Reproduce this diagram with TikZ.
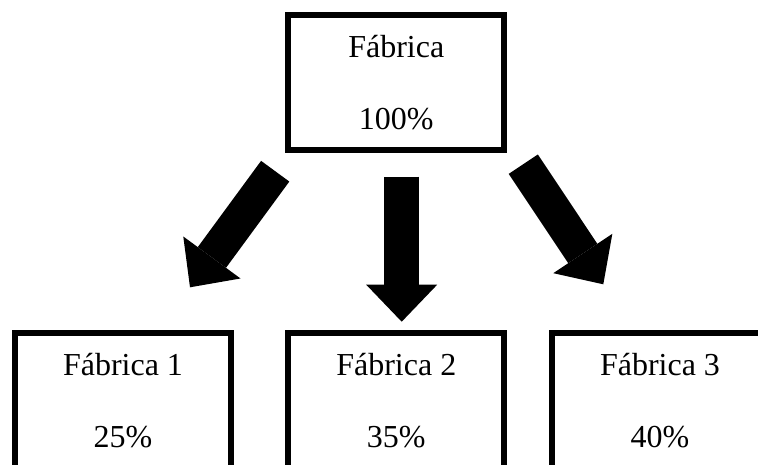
\documentclass[tikz,border=0pt]{standalone}
\usepackage{fontspec}
\setmainfont{Liberation Serif}
\usetikzlibrary{arrows.meta}
\begin{document}
\begin{tikzpicture}[x=1pt,y=-1pt,
  factbox/.style={draw=black, line width=6pt, minimum width=216pt, minimum height=134.7pt,
    inner sep=0pt, align=center, font=\fontsize{32}{71.7}\selectfont},
  blockarrow/.style={line width=35pt, draw=black,
    -{Triangle[length=37pt,width=71pt,line width=0pt]}}]
\useasboundingbox (0,0) rectangle (758,464);
\clip (0,0) rectangle (758,464);
\node[factbox] (top) at (396.3,82.6) {Fábrica\\100\%};
\node[factbox] (f1) at (123,400.8) {Fábrica 1\\25\%};
\node[factbox] (f2) at (396.3,400.8) {Fábrica 2\\35\%};
\node[factbox] (f3) at (660,400.8) {Fábrica 3\\40\%};
\coordinate (t1) at (275.2,171.2);
\coordinate (h1) at (190,287.3);
\coordinate (t2) at (401.7,176.7);
\coordinate (h2) at (401.7,321.7);
\coordinate (t3) at (523.3,164.2);
\coordinate (h3) at (603.3,284.3);
\draw[blockarrow] (t1) -- (h1);
\draw[blockarrow] (t2) -- (h2);
\draw[blockarrow] (t3) -- (h3);
\end{tikzpicture}
\end{document}
